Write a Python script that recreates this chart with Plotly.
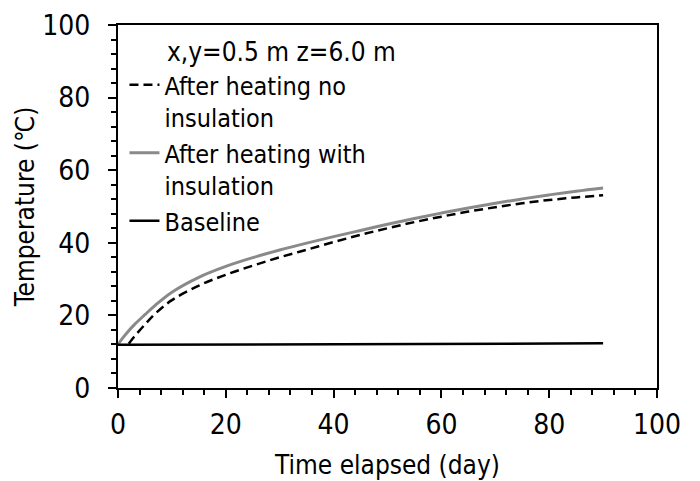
import plotly.graph_objects as go

# Temperature at x,y = 0.5 m, z = 6.0 m over the heating period
days_no_ins = [2, 3, 5, 7, 10, 15, 20, 25, 30, 35, 40, 45, 50, 55, 60, 65, 70, 75, 80, 85, 90]
temp_no_ins = [12.2, 14.1, 17.5, 20.6, 24.2, 28.2, 31.2, 33.7, 36.0, 38.1, 40.2, 42.2, 44.0,
               45.7, 47.2, 48.6, 49.8, 50.9, 51.8, 52.5, 53.1]

days_ins = [0, 1, 2, 3, 5, 7, 10, 15, 20, 25, 30, 35, 40, 45, 50, 55, 60, 65, 70, 75, 80, 85, 90]
temp_ins = [12.0, 14.0, 15.8, 17.4, 20.2, 22.9, 26.4, 30.5, 33.5, 35.9, 38.0, 39.9, 41.7, 43.4,
            45.1, 46.7, 48.2, 49.6, 50.9, 52.1, 53.2, 54.2, 55.1]

days_base = [0, 30, 60, 90]
temp_base = [11.9, 12.0, 12.2, 12.3]

x_ticks = [0, 20, 40, 60, 80, 100]
y_ticks = [0, 20, 40, 60, 80, 100]

FONT = "DejaVu Sans Condensed, DejaVu Sans, sans-serif"
TICK_SIZE = 28
TITLE_SIZE = 26
LEGEND_SIZE = 25

fig = go.Figure()
fig.add_trace(go.Scatter(
    x=days_no_ins, y=temp_no_ins, mode="lines", line_shape="spline",
    name="After heating no<br>insulation",
    line=dict(color="black", width=2.5, dash="9px,5px"),
))
fig.add_trace(go.Scatter(
    x=days_ins, y=temp_ins, mode="lines", line_shape="spline",
    name="After heating with<br>insulation",
    line=dict(color="#8a8a8a", width=3),
))
fig.add_trace(go.Scatter(
    x=days_base, y=temp_base, mode="lines",
    name="Baseline",
    line=dict(color="black", width=2.5),
))

axis_common = dict(
    showgrid=False, zeroline=False, showline=True, linecolor="black", linewidth=2,
    mirror=True, ticks="outside", ticklen=8, tickwidth=2, tickcolor="black",
    tickfont=dict(family=FONT, size=TICK_SIZE, color="black"),
    minor=dict(dtick=4, ticks="outside", ticklen=5, tickwidth=2, tickcolor="black"),
    automargin=False,
)

fig.update_xaxes(range=[0, 100], tickvals=x_ticks, ticktext=[str(v) for v in x_ticks],
                 ticklabelstandoff=2,
                 title=dict(text="Time elapsed (day)", font=dict(family=FONT, size=TITLE_SIZE, color="black"),
                            standoff=16),
                 **axis_common)
fig.update_yaxes(range=[0, 100], tickvals=y_ticks, ticktext=[str(v) for v in y_ticks],
                 ticklabelstandoff=12,
                 title=dict(text="Temperature (℃)", font=dict(family=FONT, size=TITLE_SIZE, color="black"),
                            standoff=0),
                 **axis_common)

fig.add_annotation(
    text="x,y=0.5 m z=6.0 m", xref="paper", yref="paper", x=0.088, y=0.925,
    xanchor="left", yanchor="middle", showarrow=False,
    font=dict(family=FONT, size=26, color="black"),
)

fig.update_layout(
    width=700, height=481,
    margin=dict(l=118, r=43, t=25, b=93, autoexpand=False),
    paper_bgcolor="white", plot_bgcolor="white",
    font=dict(family=FONT, size=LEGEND_SIZE, color="black"),
    legend=dict(x=0.012, y=0.898, xanchor="left", yanchor="top", bgcolor="rgba(0,0,0,0)",
                valign="top", itemwidth=30, tracegroupgap=0,
                font=dict(family=FONT, size=LEGEND_SIZE, color="black")),
    showlegend=True,
)

fig.write_html("out.html")
